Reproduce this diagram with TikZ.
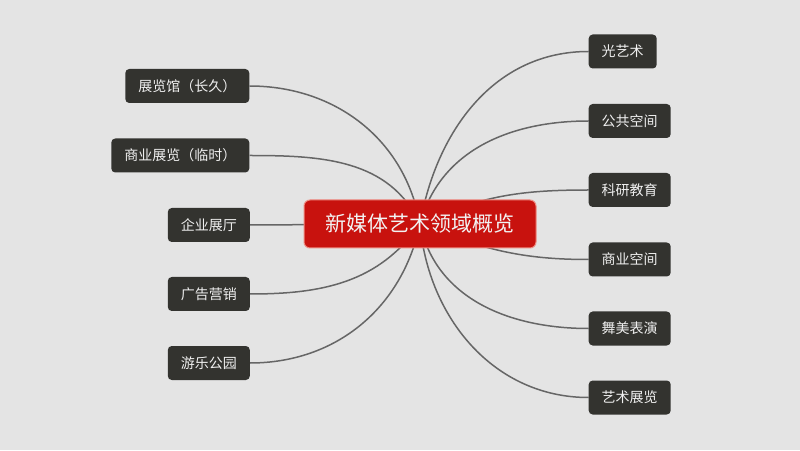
\documentclass[tikz,border=0pt]{standalone}
\usepackage{fontspec}
\setmainfont{Noto Sans CJK SC}
\definecolor{bgc}{HTML}{E4E4E4}
\definecolor{leafc}{HTML}{33332F}
\definecolor{rootc}{HTML}{C8120E}
\definecolor{rimc}{HTML}{EE8A80}
\definecolor{linec}{HTML}{666666}
\pgfdeclarelayer{edges}
\pgfsetlayers{edges,main}
\tikzset{
  leaf/.style={draw=none, fill=leafc, rounded corners=4pt, text=white!94!black,
    font=\fontsize{14pt}{16pt}\selectfont, inner xsep=13pt, inner ysep=0pt, minimum height=34pt},
  rootbox/.style={draw=rimc, line width=1pt, fill=rootc, rounded corners=6pt, text=white!95!black,
    font=\fontsize{21pt}{24pt}\selectfont, inner xsep=2pt, inner ysep=0pt, minimum width=232pt, minimum height=48pt},
  conn/.style={draw=linec, line width=1.5pt}
}
\begin{document}
\begin{tikzpicture}[x=1pt,y=1pt]
\useasboundingbox (0,0) rectangle (800,450);
\node[rootbox] (root) at (420,226) {新媒体艺术领域概览};
\coordinate (c) at (420,226);
% left leaves
\node[leaf, anchor=east] (l1) at (249.5,364) {展览馆（长久）};
\node[leaf, anchor=east] (l2) at (249.5,294.5) {商业展览（临时）};
\node[leaf, anchor=east] (l3) at (250,225) {企业展厅};
\node[leaf, anchor=east] (l4) at (250,156) {广告营销};
\node[leaf, anchor=east] (l5) at (250,87) {游乐公园};
% right leaves
\node[leaf, anchor=west] (r1) at (588.5,398.5) {光艺术};
\node[leaf, anchor=west] (r2) at (588.5,329) {公共空间};
\node[leaf, anchor=west] (r3) at (588.5,260) {科研教育};
\node[leaf, anchor=west] (r4) at (588.5,190.5) {商业空间};
\node[leaf, anchor=west] (r5) at (588.5,121.5) {舞美表演};
\node[leaf, anchor=west] (r6) at (588.5,52.5) {艺术展览};
\begin{pgfonlayer}{edges}
\fill[bgc] (0,0) rectangle (800,450);
\draw[conn] (c) to[out=80,in=180] (r1.west);
\draw[conn] (c) to[out=75,in=180] (r2.west);
\draw[conn] (c) to[out=25,in=180] (r3.west);
\draw[conn] (c) to[out=-22,in=180] (r4.west);
\draw[conn] (c) to[out=-78,in=180] (r5.west);
\draw[conn] (c) to[out=-85,in=180] (r6.west);
\draw[conn] (c) to[out=100,in=0] (l1.east);
\draw[conn] (c) to[out=115,in=0] (l2.east);
\draw[conn] (c) -- (l3.east);
\draw[conn] (c) to[out=-125,in=0] (l4.east);
\draw[conn] (c) to[out=-102,in=0] (l5.east);
\end{pgfonlayer}
\end{tikzpicture}
\end{document}
